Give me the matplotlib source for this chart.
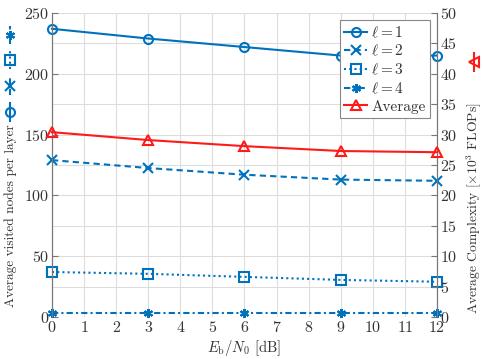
import matplotlib
matplotlib.use("Agg")
import matplotlib.pyplot as plt
from matplotlib.lines import Line2D
import numpy as np

plt.rcParams['font.family'] = 'serif'
plt.rcParams['font.serif'] = ['cmr10', 'DejaVu Serif']
plt.rcParams['mathtext.fontset'] = 'cm'
plt.rcParams['axes.formatter.use_mathtext'] = True

ebn0 = [0, 3, 6, 9, 12]
l1 = [237, 229, 222, 215, 215]
l2 = [129, 122.5, 117, 113, 112]
l3 = [37, 35.5, 33, 30.5, 29]
l4 = [3.5, 3.5, 3.5, 3.5, 3.5]
avg = [30.4, 29.1, 28.1, 27.3, 27.1]

blue = '#0072BD'
red = '#FF1A1A'
tc = '#333333'
AST = (6, 2, 0)

fig = plt.figure(figsize=(4.84, 3.59), dpi=100)
ax = fig.add_axes([0.1074, 0.117, 0.7955, 0.8468])
ax2 = ax.twinx()

kw = dict(color=blue, lw=1.5, mfc='none', mew=1.5, ms=6.5, clip_on=False, zorder=5)
h1, = ax.plot(ebn0, l1, '-', marker='o', label=r'$\ell = 1$', **kw)
h2, = ax.plot(ebn0, l2, linestyle=(0, (3, 2)), marker='x', label=r'$\ell = 2$', **kw)
h3, = ax.plot(ebn0, l3, linestyle=(0, (1, 1.5)), marker='s', label=r'$\ell = 3$', **kw)
h4, = ax.plot(ebn0, l4, linestyle=(0, (3, 1.5, 1, 1.5)), marker=AST, label=r'$\ell = 4$', **kw)
h5, = ax2.plot(ebn0, avg, '-', marker='^', color=red, lw=1.5, mfc='none', mew=1.5, ms=7.5,
               clip_on=False, zorder=5, label='Average')

ax.set_xlim(0, 12)
ax.set_ylim(0, 250)
ax2.set_ylim(0, 50)
ax.set_xticks(range(0, 13))
ax.set_yticks(range(0, 251, 50))
ax.set_yticks(range(0, 251, 25), minor=True)
ax2.set_yticks(range(0, 51, 5))

ax.grid(True, which='both', color='#dddddd', lw=0.8)
ax.set_axisbelow(True)
for a in (ax, ax2):
    for s in ('top', 'bottom'):
        a.spines[s].set_visible(False)
    for s in ('left', 'right'):
        a.spines[s].set_color('#777777')
    a.tick_params(direction='in', colors='#777777', labelcolor=tc, labelsize=11.5, length=4,
                  width=0.8, pad=2)
ax.tick_params(which='minor', length=0)
ax.tick_params(axis='x', length=0, pad=2)

ax.set_xlabel(r'$E_{\mathrm{b}}/N_0$ [dB]', fontsize=10.5, color=tc, labelpad=2)

leg = ax2.legend(handles=[h1, h2, h3, h4, h5], loc='upper right',
                 bbox_to_anchor=(0.982, 0.977), fontsize=11, handlelength=1.5,
                 handletextpad=0.25, labelspacing=0.22, borderpad=0.3, borderaxespad=0,
                 fancybox=False, framealpha=1, edgecolor='#888888')
leg.get_frame().set_linewidth(0.8)
for t in leg.get_texts():
    t.set_color(tc)

W, H = 484, 359
fig.text(11 / W, 1 - 216 / H, 'Average visited nodes per layer', rotation=90,
         ha='center', va='center', fontsize=9.6, color=tc)

def vmark(xp, yp, ls, mk, col, ms=6.5):
    fig.add_artist(Line2D([xp / W, xp / W], [1 - (yp + 9) / H, 1 - (yp - 9) / H],
                          transform=fig.transFigure, color=col, lw=1.5, linestyle=ls))
    fig.add_artist(Line2D([xp / W], [1 - yp / H], transform=fig.transFigure,
                          color=col, marker=mk, mfc='none', mew=1.5, ms=ms, linestyle='none'))

vmark(10, 112, '-', 'o', blue)
vmark(10, 86, (0, (3, 2)), 'x', blue)
vmark(10, 60, (0, (1, 1.5)), 's', blue)
vmark(10, 35, (0, (3, 1.5, 1, 1.5)), AST, blue)

fig.text(474 / W, 1 - 208 / H, r'Average Complexity [$\times 10^3$ FLOPs]', rotation=90,
         ha='center', va='center', fontsize=9.8, color=tc)
vmark(474, 62, '-', '<', red, ms=7)

fig.savefig('out.png', dpi=100)
